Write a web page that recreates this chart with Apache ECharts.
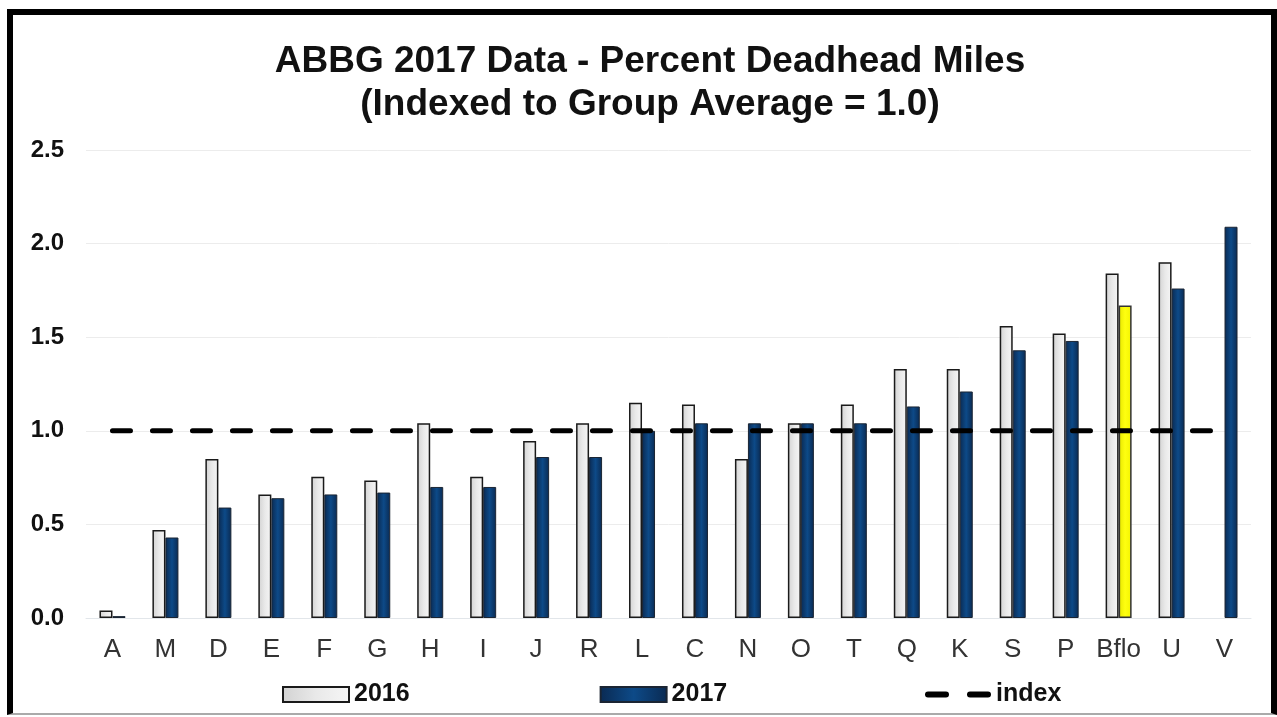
<!DOCTYPE html>
<html>
<head>
<meta charset="utf-8">
<title>ABBG 2017 Data - Percent Deadhead Miles</title>
<script src="https://cdn.jsdelivr.net/npm/echarts@6/dist/echarts.min.js"></script>
<style>
  html, body { margin: 0; padding: 0; background: #fff; }
  #chart { width: 1277px; height: 717px; }
  #frame {
    position: absolute; left: 7px; top: 9px; width: 1270px; height: 706px;
    box-sizing: border-box; border: 6px solid #000; border-bottom: 2px solid #aaa;
    pointer-events: none;
  }
</style>
</head>
<body>
<div id="chart"></div>
<div id="frame"></div>
<script>
// categories, in the order shown
const cats = ["A", "M", "D", "E", "F", "G", "H", "I", "J", "R", "L",
  "C", "N", "O", "T", "Q", "K", "S", "P", "Bflo", "U", "V"];
// values
const v2016 = [0.04, 0.47, 0.85, 0.66, 0.755, 0.735, 1.04, 0.755, 0.945, 1.04, 1.15,
  1.14, 0.85, 1.04, 1.14, 1.33, 1.33, 1.56, 1.52, 1.84, 1.90, null];
const v2017 = [0.01, 0.43, 0.59, 0.64, 0.66, 0.67, 0.70, 0.70, 0.86, 0.86, 1.00,
  1.04, 1.04, 1.04, 1.04, 1.13, 1.21, 1.43, 1.48, 1.67, 1.76, 2.09];
const indexValue = 1.0;
const highlight = "Bflo";

const font = "Liberation Sans, Arial, sans-serif";
const grad = (a, b, c) => new echarts.graphic.LinearGradient(0, 0, 1, 0, [
  { offset: 0, color: a }, { offset: 0.5, color: b }, { offset: 1, color: c },
]);
const legendText = { fontFamily: font, fontSize: 25, fontWeight: "bold", color: "#111" };

const chart = echarts.init(document.getElementById("chart"));
chart.setOption({
  backgroundColor: "#fff",
  animation: false,
  title: {
    text: "ABBG 2017 Data - Percent Deadhead Miles\n(Indexed to Group Average = 1.0)",
    left: 645,
    top: 35,
    textAlign: "center",
    textStyle: { fontFamily: font, fontSize: 37, fontWeight: "bold", color: "#111", lineHeight: 43 },
  },
  legend: [
    {
      left: 277,
      top: 677,
      itemGap: 190,
      itemWidth: 66,
      itemHeight: 15,
      textStyle: legendText,
      data: [{ name: "2016", icon: "rect" }, { name: "2017", icon: "rect" }],
    },
    {
      left: 920,
      top: 677,
      itemWidth: 66,
      itemHeight: 6,
      textStyle: legendText,
      data: [{ name: "index", icon: "path://M3,0h18a3,3 0 0 1 0,6h-18a3,3 0 0 1 0,-6z M45,0h18a3,3 0 0 1 0,6h-18a3,3 0 0 1 0,-6z" }],
    },
  ],
  grid: { left: 86, right: 26, top: 150, bottom: 99 },
  xAxis: {
    type: "category",
    data: cats,
    axisTick: { show: false },
    axisLine: { lineStyle: { color: "#e2e6ea" } },
    axisLabel: { interval: 0, fontFamily: font, fontSize: 26, color: "#333", margin: 19 },
  },
  yAxis: {
    type: "value",
    min: 0,
    max: 2.5,
    interval: 0.5,
    axisLine: { show: false },
    axisTick: { show: false },
    splitLine: { lineStyle: { color: "#ececec" } },
    axisLabel: {
      fontFamily: font, fontSize: 24, fontWeight: "bold", color: "#111", margin: 22,
      formatter: (v) => v.toFixed(1),
    },
  },
  series: [
    {
      name: "2016",
      type: "bar",
      data: v2016,
      barWidth: 13,
      barGap: "0%",
      itemStyle: { color: grad("#d2d2d2", "#e9e9e9", "#f6f6f6"), borderColor: "#1a1a1a", borderWidth: 1.5 },
    },
    {
      name: "2017",
      type: "bar",
      data: v2017.map((v, i) => cats[i] === highlight
        ? { value: v, itemStyle: { color: grad("#e6e600", "#ffff10", "#f4f400"), borderColor: "#333", borderWidth: 1.5 } }
        : v),
      barWidth: 13,
      itemStyle: { color: grad("#0a2a52", "#0d4a88", "#0a2a52"), borderColor: "#1b2533", borderWidth: 1 },
    },
    {
      name: "index",
      type: "line",
      data: cats.map(() => indexValue),
      symbol: "none",
      z: 5,
      lineStyle: { color: "#000", width: 5, type: [18, 22], cap: "round" },
      itemStyle: { color: "#000" },
    },
  ],
});
</script>
</body>
</html>
